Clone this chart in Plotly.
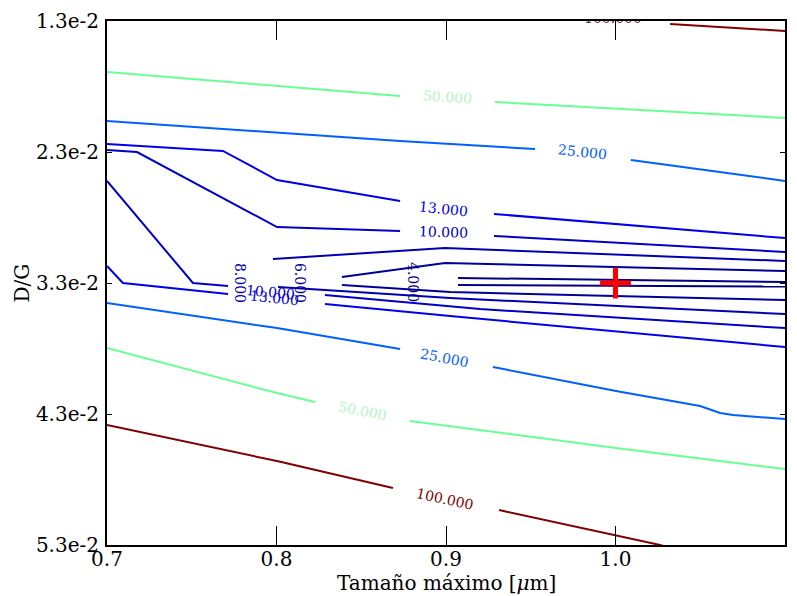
import plotly.graph_objects as go

# ---------------- data ----------------
levels = [4, 6, 8, 10, 13, 25, 50, 100]
level_colors = ["#000080", "#000097", "#0000b0", "#0000c8", "#0000ec",
                "#0060ff", "#6aff95", "#800000"]

# contour branches, None separates the pieces cut by inline labels
c4_x = [0.9071, 1.100, None, 0.9071, 1.100]
c4_y = [0.03262, 0.03292, None, 0.03315, 0.03327]

c6_x = [0.8386, 0.8994, 1.100, None, 0.8386, 0.9024, 1.100]
c6_y = [0.03254, 0.03147, 0.03209, None, 0.03315, 0.03369, 0.03430]

c8_x = [0.7979, 0.8994, 1.100, None, 0.8009, 0.9024, 1.100]
c8_y = [0.03117, 0.03033, 0.03132, None, 0.03331, 0.03415, 0.03537]

c10_x = [0.700, 0.7177, 0.8003, 0.8729, None, 0.9283, 1.100, None,
         0.700, 0.7507, 0.7714, None, 0.8286, 0.9201, 1.100]
c10_y = [0.02285, 0.02300, 0.02873, 0.02903, None, 0.02941, 0.03063, None,
         0.02521, 0.03300, 0.03323, None, 0.03392, 0.03499, 0.03644]

c13_x = [0.700, 0.7684, 0.8003, 0.8729, None, 0.9283, 1.100, None,
         0.700, 0.7094, 0.7714, None, 0.8286, 0.9024, 1.100]
c13_y = [0.02239, 0.02292, 0.02514, 0.02674, None, 0.02773, 0.02957, None,
         0.03170, 0.03300, 0.03384, None, 0.03460, 0.03552, 0.03789]

c25_x = [0.700, 0.8003, 0.8729, 0.9525, None, 1.0091, 1.100, None,
         0.700, 0.8003, 0.8729, None, 0.9277, 1.0003, 1.0499, 1.0617, 1.0693, 1.100]
c25_y = [0.02063, 0.02155, 0.02216, 0.02277, None, 0.02361, 0.02521, None,
         0.03453, 0.03644, 0.03804, None, 0.03941, 0.04125, 0.04239, 0.04292, 0.04308, 0.04338]

c50_x = [0.700, 0.8003, 0.8729, None, 0.9289, 1.100, None,
         0.700, 0.8003, 0.8227, None, 0.8788, 1.0003, 1.100]
c50_y = [0.01689, 0.01796, 0.01873, None, 0.01918, 0.02040, None,
         0.03796, 0.04140, 0.04209, None, 0.04353, 0.04560, 0.04720]

c100_x = [1.0322, 1.100, None, 0.700, 0.8003, 0.8687, None, 0.9313, 1.0263, 1.040]
c100_y = [0.01323, 0.01376, None, 0.04384, 0.04659, 0.04865, None, 0.05033, 0.05300, 0.05350]

contour_x = [c4_x, c6_x, c8_x, c10_x, c13_x, c25_x, c50_x, c100_x]
contour_y = [c4_y, c6_y, c8_y, c10_y, c13_y, c25_y, c50_y, c100_y]

# inline contour labels
label_level = [4, 6, 8, 10, 13, 10, 13, 25, 25, 50, 50, 100]
label_x = [0.8805, 0.8139, 0.7785, 0.8988, 0.8988, 0.7962, 0.7991,
           0.9808, 0.8994, 0.9006, 0.8510, 0.8994]
label_y = [0.03292, 0.03300, 0.03300, 0.02911, 0.02735, 0.03369, 0.03415,
           0.02300, 0.03873, 0.01880, 0.04277, 0.04949]
label_angle = [90, 90, 90, 2, 6, 5, 6, 6, 11, 4, 11, 12]

# label clipped by the top of the axes
top_label_x = [0.9985]
top_label_y = [0.01285]

# optimum marker
best_x = [1.0]
best_y = [0.0330]

x_ticks = [0.7, 0.8, 0.9, 1.0, 1.1]
x_ticktext = ["0.7", "0.8", "0.9", "1.0", "1.1"]
y_ticks = [0.013, 0.023, 0.033, 0.043, 0.053]
y_ticktext = ["1.3e-2", "2.3e-2", "3.3e-2", "4.3e-2", "5.3e-2"]

x_title = "Tamaño máximo [<i>μ</i>m]"
y_title = "D/G"

FONT = "DejaVu Serif"

fig = go.Figure()
for lv, col, xs, ys in zip(levels, level_colors, contour_x, contour_y):
    fig.add_trace(go.Scatter(x=xs, y=ys, mode="lines",
                             line=dict(color=col, width=2),
                             connectgaps=False, hoverinfo="skip",
                             showlegend=False))

color_of = dict(zip(levels, level_colors))
text_color = dict(color_of)
text_color[50] = "#b4f5c6"

for lv, lx, ly, ang in zip(label_level, label_x, label_y, label_angle):
    fig.add_annotation(x=lx, y=ly, text=f"{lv:.3f}", showarrow=False,
                       textangle=ang,
                       font=dict(family=FONT, size=14, color=text_color[lv]))

fig.add_trace(go.Scatter(x=top_label_x, y=top_label_y, mode="text",
                         text=[f"{100:.3f}"], cliponaxis=True,
                         textfont=dict(family=FONT, size=14, color=color_of[100]),
                         showlegend=False, hoverinfo="skip"))

fig.add_trace(go.Scatter(x=best_x, y=best_y, mode="markers",
                         marker=dict(symbol="cross-thin", size=22,
                                     line=dict(color="red", width=5)),
                         showlegend=False, hoverinfo="skip"))

# axis titles
fig.add_annotation(xref="paper", yref="paper", x=0.5, y=-0.073,
                   xanchor="center", yanchor="middle", showarrow=False,
                   text=x_title, font=dict(family=FONT, size=20, color="black"))
fig.add_annotation(xref="paper", yref="paper", x=-0.126, y=0.5,
                   xanchor="center", yanchor="middle", showarrow=False,
                   textangle=-90,
                   text=y_title, font=dict(family=FONT, size=20, color="black"))

# the page body adds an 8 px offset; the figure is sized to compensate
fig.update_layout(
    width=789, height=588,
    margin=dict(l=99, r=12, t=13, b=51, autoexpand=False),
    paper_bgcolor="white", plot_bgcolor="white",
    font=dict(family=FONT, size=20, color="black"),
)
fig.update_xaxes(range=[0.7, 1.1], tickvals=x_ticks, ticktext=x_ticktext,
                 ticks="inside", ticklen=19, tickwidth=1, tickcolor="black",
                 showline=True, linewidth=2, linecolor="black", mirror="ticks",
                 showgrid=False, zeroline=False, automargin=False,
                 ticklabelstandoff=-5,
                 tickfont=dict(family=FONT, size=20))
fig.update_yaxes(range=[0.053, 0.013], tickvals=y_ticks, ticktext=y_ticktext,
                 ticks="inside", ticklen=5, tickwidth=1, tickcolor="black",
                 showline=True, linewidth=2, linecolor="black", mirror="ticks",
                 showgrid=False, zeroline=False, automargin=False,
                 ticklabelstandoff=2,
                 tickfont=dict(family=FONT, size=20))

fig.write_html("out.html")
